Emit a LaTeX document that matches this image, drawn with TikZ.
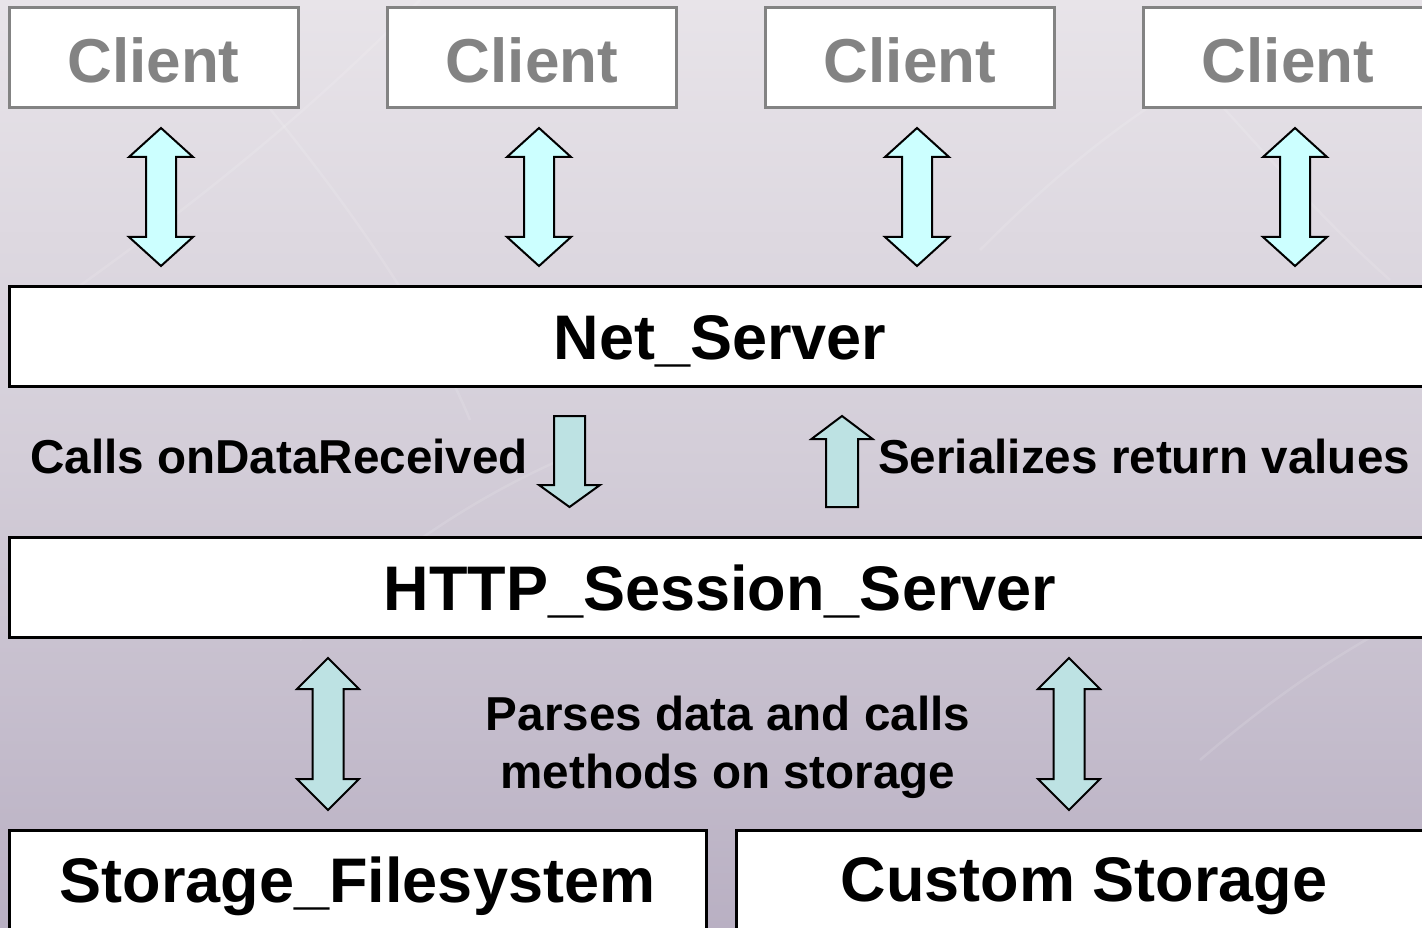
\documentclass[tikz,border=0pt]{standalone}
\usepackage{fontspec}
\setmainfont{Liberation Sans}
\usetikzlibrary{positioning}

\definecolor{bgtop}{HTML}{E8E4E9}
\definecolor{bgmid}{HTML}{D3CDD8}
\definecolor{bgbot}{HTML}{B9B0C3}
\definecolor{clientgray}{HTML}{838383}
\definecolor{cyanfill}{HTML}{CCFFFF}
\definecolor{tealfill}{HTML}{BDE2E3}

\tikzset{
  clientbox/.style={draw=clientgray, line width=3pt, fill=white, inner sep=0pt,
    minimum width=289pt, minimum height=100pt,
    text=clientgray, font=\fontsize{62}{70}\selectfont\bfseries},
  layerbox/.style={draw=black, line width=3pt, fill=white, inner sep=0pt,
    minimum height=100pt, font=\fontsize{63}{72}\selectfont\bfseries},
  note/.style={inner sep=0pt, font=\fontsize{47.6}{58}\selectfont\bfseries},
  blockarrow/.style={draw=black, line width=2pt, line join=miter},
}

% set a box label a little lower without changing its reported size
\newcommand\lowered[2]{\raisebox{-#1}[\height][\depth]{#2}}

% vertical double block arrow: x, top, bottom, half head, half shaft, head length, fill
\newcommand\dblblock[7]{%
  \draw[blockarrow, fill=#7]
    (#1,#2) -- (#1+#4,#2+#6) -- (#1+#5,#2+#6) -- (#1+#5,#3-#6) -- (#1+#4,#3-#6)
    -- (#1,#3) -- (#1-#4,#3-#6) -- (#1-#5,#3-#6) -- (#1-#5,#2+#6) -- (#1-#4,#2+#6) -- cycle;}
% downward block arrow: x, top, head base, tip, half head, half shaft
\newcommand\downblock[6]{%
  \draw[blockarrow, fill=tealfill]
    (#1-#6,#2) -- (#1+#6,#2) -- (#1+#6,#3) -- (#1+#5,#3) -- (#1,#4)
    -- (#1-#5,#3) -- (#1-#6,#3) -- cycle;}
% upward block arrow: x, tip, head base, bottom, half head, half shaft
\newcommand\upblock[6]{%
  \draw[blockarrow, fill=tealfill]
    (#1,#2) -- (#1+#5,#3) -- (#1+#6,#3) -- (#1+#6,#4) -- (#1-#6,#4)
    -- (#1-#6,#3) -- (#1-#5,#3) -- cycle;}

\begin{document}
\begin{tikzpicture}[x=1pt,y=-1pt]
  \useasboundingbox (0,0) rectangle (1422,928);
  \clip (0,0) rectangle (1422,928);

  % background
  \fill[top color=bgtop, bottom color=bgbot, middle color=bgmid, shading angle=0]
    (0,0) rectangle (1422,928);
  \begin{scope}[white, opacity=0.12, line width=2.5pt]
    \draw (60,300) .. controls (200,200) and (300,120) .. (420,0);
    \draw (230,60) .. controls (330,180) and (420,300) .. (470,420);
    \draw (980,250) .. controls (1080,150) and (1160,90) .. (1300,20);
    \draw (1150,30) .. controls (1230,110) and (1300,200) .. (1390,280);
    \draw (300,640) .. controls (380,560) and (470,500) .. (560,460);
    \draw (1200,760) .. controls (1270,700) and (1340,650) .. (1422,610);
  \end{scope}

  % clients
  \node[clientbox] (c1) at (153.5,58) {\lowered{2pt}{Client}};
  \node[clientbox] (c2) at (532,58) {\lowered{2pt}{Client}};
  \node[clientbox] (c3) at (910,58) {\lowered{2pt}{Client}};
  \node[clientbox] (c4) at (1288,58) {\lowered{2pt}{Client}};

  % server layers
  \node[layerbox, minimum width=1422pt] (net) at (720,336) {\lowered{5pt}{Net\_Server}};
  \node[layerbox, minimum width=1422pt] (http) at (720,587) {\lowered{5pt}{HTTP\_Session\_Server}};

  % storage backends
  \node[layerbox, minimum width=697pt] (fs) at (357.5,880) {\lowered{6pt}{Storage\_Filesystem}};
  \node[layerbox, minimum width=696pt] (custom) at (1084,880) {\lowered{6pt}{Custom Storage}};

  % client <-> Net_Server
  \dblblock{161}{128}{266}{32}{15}{29}{cyanfill}
  \dblblock{539}{128}{266}{32}{15}{29}{cyanfill}
  \dblblock{917}{128}{266}{32}{15}{29}{cyanfill}
  \dblblock{1295}{128}{266}{32}{15}{29}{cyanfill}

  % Net_Server <-> HTTP_Session_Server
  \downblock{569.5}{416}{485}{507}{30.5}{15.5}
  \upblock{842}{416}{439}{507}{30.5}{16}
  \node[note, anchor=east] (recv) at (528,456) {Calls onDataReceived};
  \node[note, anchor=west] (ser) at (878,456) {Serializes return values};

  % HTTP_Session_Server <-> storage
  \dblblock{328}{658}{810}{31}{15.5}{31}{tealfill}
  \dblblock{1069}{658}{810}{31}{15.5}{31}{tealfill}
  \node[note, align=center] (parse) at (728,747)
    {Parses data and calls\\methods on storage};
\end{tikzpicture}
\end{document}
